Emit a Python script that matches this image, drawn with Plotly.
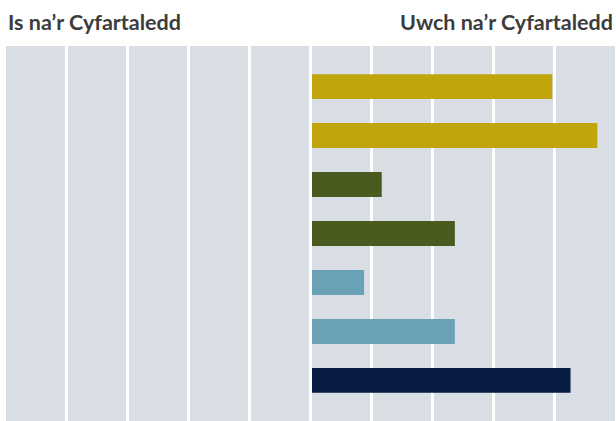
import plotly.graph_objects as go

categories = ["Eitem 1", "Eitem 2", "Eitem 3", "Eitem 4", "Eitem 5", "Eitem 6", "Eitem 7"]
values = [3.97, 4.71, 1.17, 2.37, 0.88, 2.37, 4.27]
bar_colors = ["#c1a50c", "#c1a50c", "#4a5b20", "#4a5b20", "#6aa1b7", "#6aa1b7", "#081b45"]
left_label = "Is na’r Cyfartaledd"
right_label = "Uwch na’r Cyfartaledd"

fig = go.Figure(go.Bar(
    x=values, y=categories, orientation="h",
    marker=dict(color=bar_colors, line=dict(width=0)),
    width=0.51, hoverinfo="skip",
))

xaxis = dict(range=[-5, 5], dtick=1, showgrid=True, gridcolor="white", gridwidth=3,
             zeroline=True, zerolinecolor="white", zerolinewidth=3,
             showticklabels=False, ticks="", fixedrange=True)
try:
    go.layout.XAxis(zerolinelayer="above traces")
    xaxis["zerolinelayer"] = "above traces"
except Exception:
    pass

fig.update_layout(
    width=616, height=421,
    margin=dict(l=6, r=1, t=46, b=0),
    paper_bgcolor="white", plot_bgcolor="#d9dde4",
    showlegend=False,
    xaxis=xaxis,
    yaxis=dict(range=[6.83, -0.83], showgrid=False, zeroline=False,
               showticklabels=False, ticks="", fixedrange=True),
    annotations=[
        dict(text=f"<b>{left_label}</b>", x=0, xref="paper", xanchor="left",
             y=1, yref="paper", yanchor="bottom", yshift=9, xshift=0, showarrow=False,
             font=dict(family="Lato", size=21.5, color="#3c3c3c")),
        dict(text=f"<b>{right_label}</b>", x=1, xref="paper", xanchor="right",
             y=1, yref="paper", yanchor="bottom", yshift=9, showarrow=False,
             font=dict(family="Lato", size=21.5, color="#3c3c3c")),
    ],
)

fig.write_html("out.html", config={"displayModeBar": False},
               post_script="document.body.style.margin='0';")
